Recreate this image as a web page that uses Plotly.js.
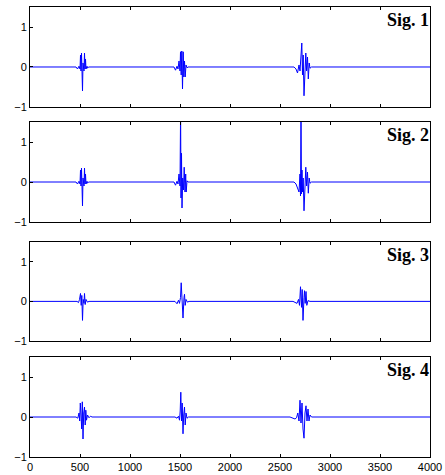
<!DOCTYPE html>
<html>
<head>
<meta charset="utf-8">
<script src="https://cdn.plot.ly/plotly-3.0.1.min.js"></script>
<style>html,body{margin:0;padding:0;background:#fff;}</style>
</head>
<body>
<div id="chart" style="width:445px;height:475px;"></div>
<script>
// Sample index breakpoints and amplitudes (signal is 0 elsewhere)
const sig1X = [0, 460, 475, 490, 500, 505, 510, 515, 520, 525, 530, 540, 545, 550, 555, 560, 570, 575, 585,
  1440, 1455, 1470, 1480, 1490, 1500, 1505, 1512, 1518, 1525, 1532, 1538, 1545, 1552, 1560, 1570, 1580,
  2640, 2660, 2675, 2690, 2700, 2710, 2718, 2725, 2732, 2740, 2750, 2758, 2766, 2775, 2783, 2792, 2800, 2815, 4000];
const sig1Y = [0, 0, -0.05, 0.02, -0.05, 0.3, -0.1, 0.35, -0.1, -0.6, 0.1, -0.1, 0.35, -0.05, 0.2, -0.05, 0.02, -0.03, 0,
  0, -0.08, 0.02, -0.05, 0.15, -0.1, 0.38, -0.2, 0.4, -0.55, 0.38, -0.25, 0.15, -0.25, 0.05, -0.02, 0,
  0, -0.05, -0.15, 0.05, -0.1, 0.25, 0.6, -0.2, 0.3, -0.72, 0.1, 0.35, -0.1, 0.25, -0.3, 0.1, -0.03, 0, 0];

const sig2X = [0, 460, 475, 490, 500, 505, 510, 515, 520, 525, 530, 540, 545, 550, 555, 560, 570, 575, 585,
  1440, 1455, 1470, 1480, 1490, 1500, 1506, 1510, 1515, 1520, 1527, 1535, 1542, 1550, 1557, 1562, 1570, 1580,
  2640, 2660, 2675, 2690, 2700, 2705, 2710, 2715, 2720, 2725, 2732, 2740, 2750, 2758, 2766, 2775, 2783, 2792, 2800, 2815, 4000];
const sig2Y = [0, 0, -0.05, 0.02, -0.05, 0.3, -0.1, 0.35, -0.1, -0.6, 0.1, -0.1, 0.35, -0.05, 0.2, -0.05, 0.02, -0.03, 0,
  0, -0.08, 0.02, -0.05, 0.2, -0.1, 1.8, -0.4, 0.72, -0.65, 0.1, -0.2, 0.37, -0.25, 0.2, -0.25, 0.03, 0,
  0, -0.05, -0.15, -0.25, 0.2, -0.35, 1.8, -0.3, 0.3, -0.25, 0.1, -0.72, 0.1, 0.37, -0.1, 0.25, -0.28, 0.1, -0.03, 0, 0];

const sig3X = [0, 470, 485, 495, 505, 512, 518, 525, 532, 540, 545, 552, 560, 575, 590,
  1450, 1470, 1485, 1495, 1505, 1512, 1520, 1530, 1540, 1545, 1552, 1560, 1575, 1590,
  2630, 2650, 2670, 2685, 2695, 2705, 2715, 2722, 2730, 2740, 2745, 2752, 2760, 2768, 2780, 2800, 4000];
const sig3Y = [0, 0, -0.03, 0.05, 0.2, -0.1, 0.15, -0.48, 0.05, -0.05, 0.2, -0.08, 0.05, -0.02, 0,
  0, -0.06, 0.03, -0.05, 0.1, 0.47, -0.2, -0.42, 0.1, 0.18, -0.1, 0.05, -0.02, 0,
  0, -0.03, -0.05, 0.05, -0.1, 0.37, -0.15, 0.3, -0.48, 0.1, 0.27, -0.05, 0.25, -0.1, 0.02, 0, 0];

const sig4X = [0, 460, 478, 490, 497, 503, 510, 517, 523, 530, 537, 545, 552, 558, 565, 575, 590, 605, 620,
  1450, 1470, 1485, 1495, 1502, 1508, 1515, 1522, 1530, 1537, 1545, 1552, 1560, 1570, 1585,
  2600, 2630, 2650, 2665, 2678, 2690, 2700, 2710, 2720, 2730, 2740, 2750, 2760, 2770, 2780, 2790, 2800, 2815, 4000];
const sig4Y = [0, 0, -0.03, 0.1, -0.1, 0.35, 0.05, -0.3, 0.38, -0.55, 0.1, 0.25, -0.2, 0.17, -0.08, 0.05, -0.02, 0.02, 0,
  0, -0.03, 0.02, -0.08, 0.15, 0.62, -0.1, 0.35, -0.42, 0.05, 0.25, -0.2, 0.1, -0.03, 0,
  0, -0.02, -0.05, -0.02, 0.1, -0.1, 0.42, -0.15, 0.35, -0.3, -0.53, 0.1, 0.28, -0.1, 0.2, -0.1, 0.05, 0, 0];

const sigNames = ['Sig. 1', 'Sig. 2', 'Sig. 3', 'Sig. 4'];
const xTicks = [0, 500, 1000, 1500, 2000, 2500, 3000, 3500, 4000];
const yTicks = [-1, 0, 1];

const xs = [sig1X, sig2X, sig3X, sig4X];
const ys = [sig1Y, sig2Y, sig3Y, sig4Y];

const domains = [[0.7778, 1.0], [0.5222, 0.7444], [0.2578, 0.4778], [0, 0.2222]];

const traces = [];
const layout = {
  width: 445, height: 475,
  margin: {l: 30, r: 15, t: 7, b: 18},
  paper_bgcolor: '#fff', plot_bgcolor: '#fff',
  showlegend: false,
  font: {family: 'Liberation Sans, Arial, sans-serif', size: 11, color: '#000'},
  annotations: []
};

for (let i = 0; i < 4; i++) {
  const n = i + 1;
  const xa = 'x' + (n === 1 ? '' : n);
  const ya = 'y' + (n === 1 ? '' : n);
  traces.push({
    x: xs[i], y: ys[i], type: 'scatter', mode: 'lines',
    line: {color: '#0000ff', width: 1},
    xaxis: xa, yaxis: ya, hoverinfo: 'skip'
  });
  layout['xaxis' + (n === 1 ? '' : n)] = {
    domain: [0, 1], anchor: ya, range: [0, 4000],
    tickvals: xTicks, showticklabels: n === 4,
    ticks: 'inside', ticklen: 3, tickcolor: '#000', tickwidth: 1,
    showline: true, linecolor: '#000', linewidth: 1, mirror: 'ticks',
    showgrid: false, zeroline: false, fixedrange: true,
    tickfont: {family: 'Liberation Sans, Arial, sans-serif', size: 11, color: '#000'}
  };
  layout['yaxis' + (n === 1 ? '' : n)] = {
    domain: domains[i], anchor: xa, range: [-1, 1.5],
    tickvals: yTicks,
    ticks: 'inside', ticklen: 3, tickcolor: '#000', tickwidth: 1,
    showline: true, linecolor: '#000', linewidth: 1, mirror: true,
    showgrid: false, zeroline: false, fixedrange: true,
    tickfont: {family: 'Liberation Sans, Arial, sans-serif', size: 11, color: '#000'}
  };
  layout.annotations.push({
    text: '<b>' + sigNames[i] + '</b>',
    xref: xa + ' domain', yref: ya + ' domain',
    x: 1, y: 1, xanchor: 'right', yanchor: 'top', xshift: 1, yshift: -1,
    showarrow: false,
    font: {family: 'Liberation Serif, Times New Roman, serif', size: 18, color: '#000'}
  });
}

Plotly.newPlot('chart', traces, layout, {displayModeBar: false, staticPlot: true});
</script>
</body>
</html>
